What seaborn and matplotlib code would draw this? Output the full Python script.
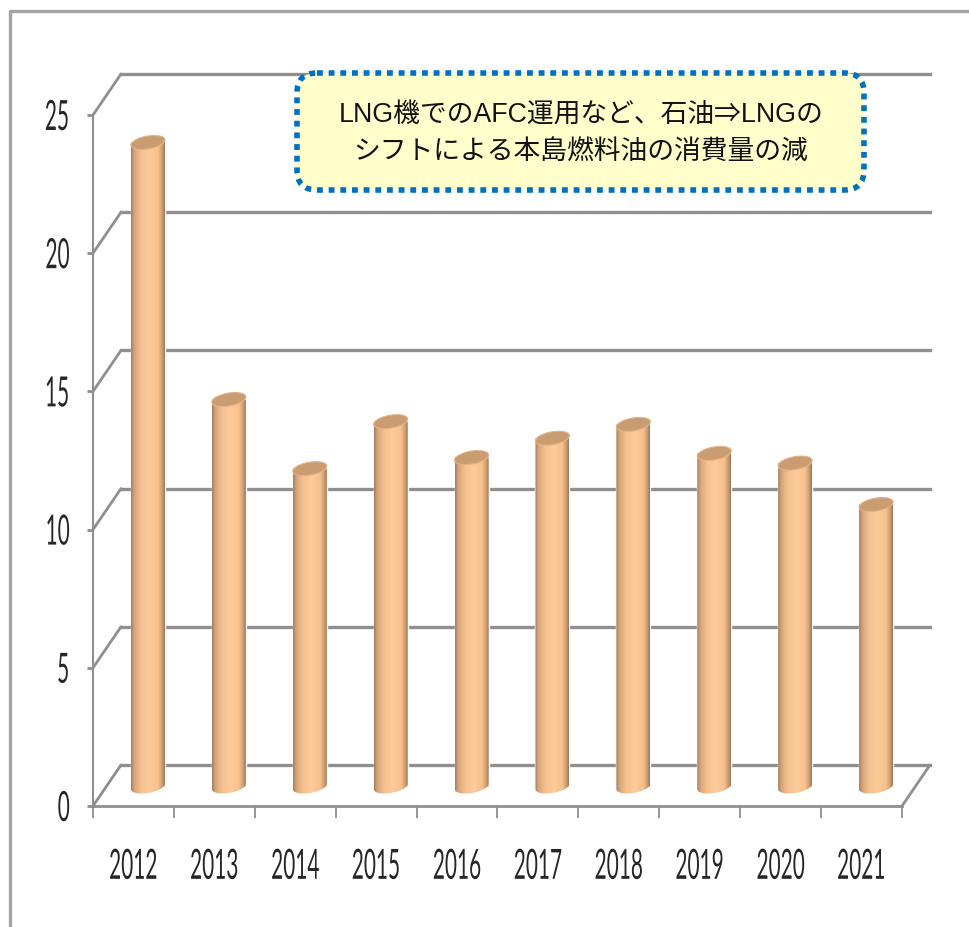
import numpy as np
import pandas as pd
import matplotlib
matplotlib.use("Agg")
import matplotlib.pyplot as plt
from matplotlib.patches import FancyBboxPatch
from matplotlib.path import Path
from matplotlib.transforms import Affine2D
from matplotlib.lines import Line2D
from matplotlib.patheffects import AbstractPathEffect
from matplotlib.colors import LinearSegmentedColormap
import seaborn as sns

years = ["2012", "2013", "2014", "2015", "2016", "2017", "2018", "2019", "2020", "2021"]
values = [23.3, 14.0, 11.5, 13.2, 11.9, 12.6, 13.1, 12.05, 11.7, 10.2]
y_ticks = [0, 5, 10, 15, 20, 25]
note_lines = ["LNG機でのAFC運用など、石油⇒LNGの", "シフトによる本島燃料油の消費量の減"]

W, H = 970, 927
sns.set_theme(style="white")
plt.rcParams["font.family"] = ["Liberation Sans", "Noto Sans CJK JP", "DejaVu Sans"]


class Squeeze(AbstractPathEffect):
    """Draw a text narrower and taller than its font, as in the stretched picture."""

    def __init__(self, sx, sy, anchor):
        super().__init__()
        self.sx, self.sy, self.anchor = sx, sy, anchor

    def draw_path(self, renderer, gc, tpath, affine, rgbFace=None):
        e = tpath.get_extents()
        c = e.x0 + self.anchor * (e.x1 - e.x0)
        m = (e.y0 + e.y1) / 2
        t = (Affine2D().translate(-c, -m).scale(self.sx, self.sy).translate(c, m) + affine)
        renderer.draw_path(gc, tpath, t, rgbFace)


GRAY = "#8f8f8f"
fig = plt.figure(figsize=(W / 100, H / 100), dpi=100, facecolor="white")
# axes box: x 93..902 px, y 806 (0) .. 115 (25) px
ax = fig.add_axes([93 / W, 1 - 806 / H, (902 - 93) / W, (806 - 115) / H])
ax.set_facecolor("none")

df = pd.DataFrame({"year": years, "value": values})
sns.barplot(data=df, x="year", y="value", color="#fdc896", width=0.42, ax=ax,
            saturation=1, zorder=3)
ax.set_xlim(-0.5, 9.5)
ax.set_ylim(0, 25)
ax.set_xlabel("")
ax.set_ylabel("")

px = Affine2D().scale(1, -1).translate(0, H)   # reference pixel coordinates
DX_BACK, DY_BACK = 28, 41
DX_BAR, DY_BAR = 14.5, 19.5

# outer frame
fig.add_artist(Line2D([10, 10, W], [H, 11, 11], transform=px, color="#a3a3a3", lw=2.4))

# walls: gridlines run from the axis up the side wall and along the back
back = ax.transData + Affine2D().translate(DX_BACK, DY_BACK)
for t in y_ticks:
    p0 = ax.transData.transform((-0.5, t))
    ax.add_line(Line2D([p0[0], p0[0] + DX_BACK], [p0[1], p0[1] + DY_BACK],
                       transform=Affine2D(), color=GRAY, lw=2.0, zorder=1, clip_on=False))
    ax.plot([-0.5, 9.5], [t, t], transform=back, color=GRAY, lw=2.4, zorder=1, clip_on=False,
            solid_capstyle="projecting")
p1 = ax.transData.transform((9.5, 0))
ax.add_line(Line2D([p1[0], p1[0] + DX_BACK], [p1[1], p1[1] + DY_BACK], transform=Affine2D(),
                   color=GRAY, lw=2.0, zorder=1, clip_on=False))

# axes and ticks
for s in ("top", "right"):
    ax.spines[s].set_visible(False)
ax.spines["left"].set_color(GRAY)
ax.spines["left"].set_linewidth(1.5)
ax.spines["bottom"].set_color(GRAY)
ax.spines["bottom"].set_linewidth(2.0)
ax.set_yticks(y_ticks)
ax.set_xticks(np.arange(-0.5, 10, 1), minor=True)
ax.tick_params(axis="x", which="major", length=0, pad=33)
ax.tick_params(axis="x", which="minor", length=8.5, width=1.3, color=GRAY, bottom=True)
ax.tick_params(axis="y", length=4.5, width=2, color=GRAY, left=True, pad=12)
for lab in ax.get_xticklabels():
    lab.set_fontfamily("Lato")
    lab.set_fontsize(24)
    lab.set_color("#262626")
    lab.set_path_effects([Squeeze(0.625, 1.25, 0.5)])
for lab in ax.get_yticklabels():
    lab.set_fontfamily("Lato")
    lab.set_fontsize(24)
    lab.set_color("#262626")
    lab.set_path_effects([Squeeze(0.625, 1.25, 1.0)])

# cylinders: the seaborn bars are shifted into the depth of the plot and shaded
bar_tf = ax.transData + Affine2D().translate(DX_BAR, DY_BAR)
cmap = LinearSegmentedColormap.from_list(
    "cyl", [(0, "#a67f5d"), (0.1, "#d5a67c"), (0.3, "#f6c08f"), (0.55, "#fecb9a"),
            (0.8, "#f8c08c"), (0.93, "#c99b72"), (1, "#9a7657")])
grad = np.linspace(0, 1, 128).reshape(1, -1)
uy = (806 - 115) / 25
semi_y, tilt = 6.5 / uy, 2.6 / uy
theta = np.linspace(0, 2 * np.pi, 121)
for bar in ax.patches:
    x0, w, h = bar.get_x(), bar.get_width(), bar.get_height()
    cx, a = x0 + w / 2, w / 2
    bar.set_transform(bar_tf)
    bar.set_clip_on(False)
    # outline: straight sides plus the lower half of the base ellipse
    lower = theta[(theta >= np.pi) & (theta <= 2 * np.pi)]
    bx = cx + a * np.cos(lower)
    by = semi_y * np.sin(lower) + tilt * np.cos(lower)
    verts = np.column_stack([np.r_[x0, bx, x0 + w, x0], np.r_[h, by, h, h]])
    clip = Path(verts)
    im = ax.imshow(grad, cmap=cmap, vmin=0, vmax=1, aspect="auto", zorder=3.2,
                   extent=[x0, x0 + w, -1, h + 1], transform=bar_tf, interpolation="bilinear")
    im.set_clip_path(clip, transform=bar_tf)
    # top cap
    tx = cx + a * np.cos(theta)
    ty = h + semi_y * np.sin(theta) + tilt * np.cos(theta)
    ax.fill(tx, ty, transform=bar_tf, facecolor="#c99c72", edgecolor="#e4b285", lw=0.8,
            zorder=3.4, clip_on=False)
ax.set_xlim(-0.5, 9.5)
ax.set_ylim(0, 25)

# callout
box = FancyBboxPatch((297 + 14, 73 + 14), 864 - 297 - 28, 190 - 73 - 28,
                     boxstyle="round,pad=14,rounding_size=20", transform=px,
                     facecolor="#ffffcc", edgecolor="#0070c0", lw=4,
                     linestyle=(0, (1.05, 1.05)), zorder=5)
fig.add_artist(box)
for line, yp in zip(note_lines, [116, 153]):
    fig.text(581, yp, line, transform=px, ha="center", va="center", fontsize=19.3,
             color="#111111", zorder=6)

fig.savefig("out.png", dpi=100)
